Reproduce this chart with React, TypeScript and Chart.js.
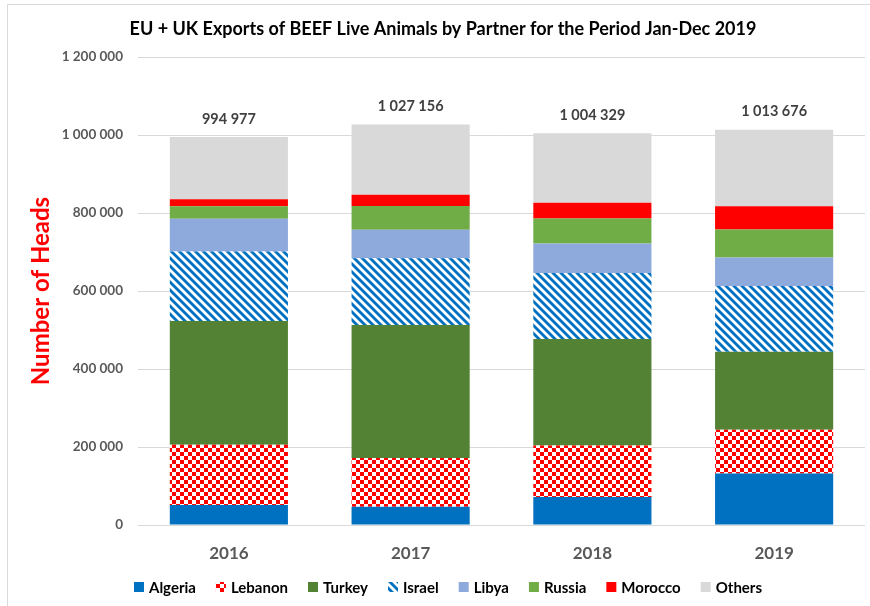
import { useEffect, useRef } from 'react';
import { Chart, registerables } from 'chart.js';

Chart.register(...registerables);

const categories = ['2016', '2017', '2018', '2019'];
const algeria = [51000, 47000, 72000, 132000];
const lebanon = [155000, 125000, 132000, 112000];
const turkey = [317000, 341000, 273000, 200000];
const israel = [178000, 171000, 169000, 169000];
const libya = [84000, 73000, 76000, 73000];
const russia = [32000, 61000, 64000, 72000];
const morocco = [18000, 29000, 40000, 59000];
const others = [159977, 180156, 178329, 196676];
const seriesNames = ['Algeria', 'Lebanon', 'Turkey', 'Israel', 'Libya', 'Russia', 'Morocco', 'Others'];
const yMin = 0;
const yMax = 1200000;
const yStep = 200000;

const FONT = 'Lato, "Open Sans", sans-serif';

function fmt(n: number): string {
  return Math.round(n).toString().replace(/\B(?=(\d{3})+(?!\d))/g, ' ');
}

function makeChecker(): CanvasPattern | string {
  const c = document.createElement('canvas');
  c.width = 8;
  c.height = 8;
  const g = c.getContext('2d');
  if (!g) return '#FF0000';
  g.fillStyle = '#FFFFFF';
  g.fillRect(0, 0, 8, 8);
  g.fillStyle = '#FF0000';
  g.fillRect(0, 0, 4, 4);
  g.fillRect(4, 4, 4, 4);
  return g.createPattern(c, 'repeat') || '#FF0000';
}

function makeStripes(): CanvasPattern | string {
  const c = document.createElement('canvas');
  c.width = 8;
  c.height = 8;
  const g = c.getContext('2d');
  if (!g) return '#0070C0';
  g.fillStyle = '#FFFFFF';
  g.fillRect(0, 0, 8, 8);
  g.strokeStyle = '#0070C0';
  g.lineWidth = 2.8;
  for (const off of [-8, 0, 8]) {
    g.beginPath();
    g.moveTo(off - 1, -1);
    g.lineTo(off + 9, 9);
    g.stroke();
  }
  return g.createPattern(c, 'repeat') || '#0070C0';
}

export default function App() {
  const ref = useRef<HTMLCanvasElement>(null);

  useEffect(() => {
    document.body.style.margin = '0';
    const canvas = ref.current;
    if (!canvas) return;
    const ctx = canvas.getContext('2d');
    if (!ctx) return;

    const checker = makeChecker();
    const stripes = makeStripes();
    const values = [algeria, lebanon, turkey, israel, libya, russia, morocco, others];
    const colors: (string | CanvasPattern)[] = [
      '#0070C0', checker, '#548235', stripes, '#8EA9DB', '#70AD47', '#FF0000', '#D9D9D9',
    ];

    const decor = {
      id: 'decor',
      afterDatasetsDraw(chart: any) {
        const c = chart.ctx as CanvasRenderingContext2D;
        const xs = chart.scales.x;
        const ys = chart.scales.y;
        c.save();
        c.font = `bold 14.5px ${FONT}`;
        c.fillStyle = '#404040';
        c.textAlign = 'center';
        c.textBaseline = 'middle';
        categories.forEach((_, i) => {
          const total = values.reduce((s, arr) => s + arr[i], 0);
          c.fillText(fmt(total), xs.getPixelForValue(i), ys.getPixelForValue(total) - 18);
        });
        c.restore();
      },
      afterDraw(chart: any) {
        const c = chart.ctx as CanvasRenderingContext2D;
        const area = chart.chartArea;
        c.save();
        // border
        c.strokeStyle = '#D9D9D9';
        c.lineWidth = 1;
        c.beginPath();
        c.moveTo(7.5, 606);
        c.lineTo(7.5, 4.5);
        c.lineTo(870, 4.5);
        c.stroke();
        // title
        c.fillStyle = '#000000';
        c.font = `bold 18px ${FONT}`;
        c.textAlign = 'center';
        c.textBaseline = 'middle';
        c.fillText('EU + UK Exports of BEEF Live Animals by Partner for the Period Jan-Dec 2019', 443, 29);
        // y title
        c.save();
        c.translate(41, (area.top + area.bottom) / 2);
        c.rotate(-Math.PI / 2);
        c.fillStyle = '#FF0000';
        c.font = `bold 24px ${FONT}`;
        c.fillText('Number of Heads', 0, 0);
        c.restore();
        // legend
        c.font = `bold 15px ${FONT}`;
        const box = 10;
        const gapText = 5;
        const gapItem = 20;
        const widths = seriesNames.map((n) => box + gapText + c.measureText(n).width);
        const totalW = widths.reduce((a, b) => a + b, 0) + gapItem * (seriesNames.length - 1);
        let x = 448 - totalW / 2;
        const ly = 587;
        c.textAlign = 'left';
        seriesNames.forEach((n, i) => {
          c.fillStyle = colors[i] as any;
          c.fillRect(x, ly - box / 2, box, box);
          c.fillStyle = '#000000';
          c.fillText(n, x + box + gapText, ly + 1);
          x += widths[i] + gapItem;
        });
        c.restore();
      },
    };

    const chart = new Chart(ctx, {
      type: 'bar',
      data: {
        labels: categories,
        datasets: seriesNames.map((name, i) => ({
          label: name,
          data: values[i],
          backgroundColor: colors[i] as any,
          borderWidth: 0,
          categoryPercentage: 1,
          barPercentage: 0.65,
        })),
      },
      options: {
        animation: false,
        responsive: false,
        maintainAspectRatio: false,
        layout: { padding: { left: 0, top: 57, right: 5, bottom: 0 } },
        plugins: {
          legend: { display: false },
          title: { display: false },
          tooltip: { enabled: false },
        },
        scales: {
          x: {
            stacked: true,
            grid: { display: false },
            border: { display: false },
            ticks: {
              font: { family: FONT, size: 17, weight: 'bold' },
              color: '#595959',
              padding: 10,
            },
            afterFit(scale: any) {
              scale.height = 81;
            },
          },
          y: {
            stacked: true,
            min: yMin,
            max: yMax,
            grid: { color: '#D9D9D9', drawTicks: false, lineWidth: 1 },
            border: { display: false },
            ticks: {
              stepSize: yStep,
              padding: 15,
              font: { family: FONT, size: 13.5, weight: 'bold' },
              color: '#595959',
              callback: (v: any) => fmt(Number(v)),
            },
            afterFit(scale: any) {
              scale.width = 138;
            },
          },
        },
      },
      plugins: [decor],
    } as any);

    return () => chart.destroy();
  }, []);

  return (
    <div style={{ width: 870, height: 606, position: 'relative', background: '#FFFFFF' }}>
      <canvas ref={ref} width={870} height={606} style={{ display: 'block' }} />
    </div>
  );
}
